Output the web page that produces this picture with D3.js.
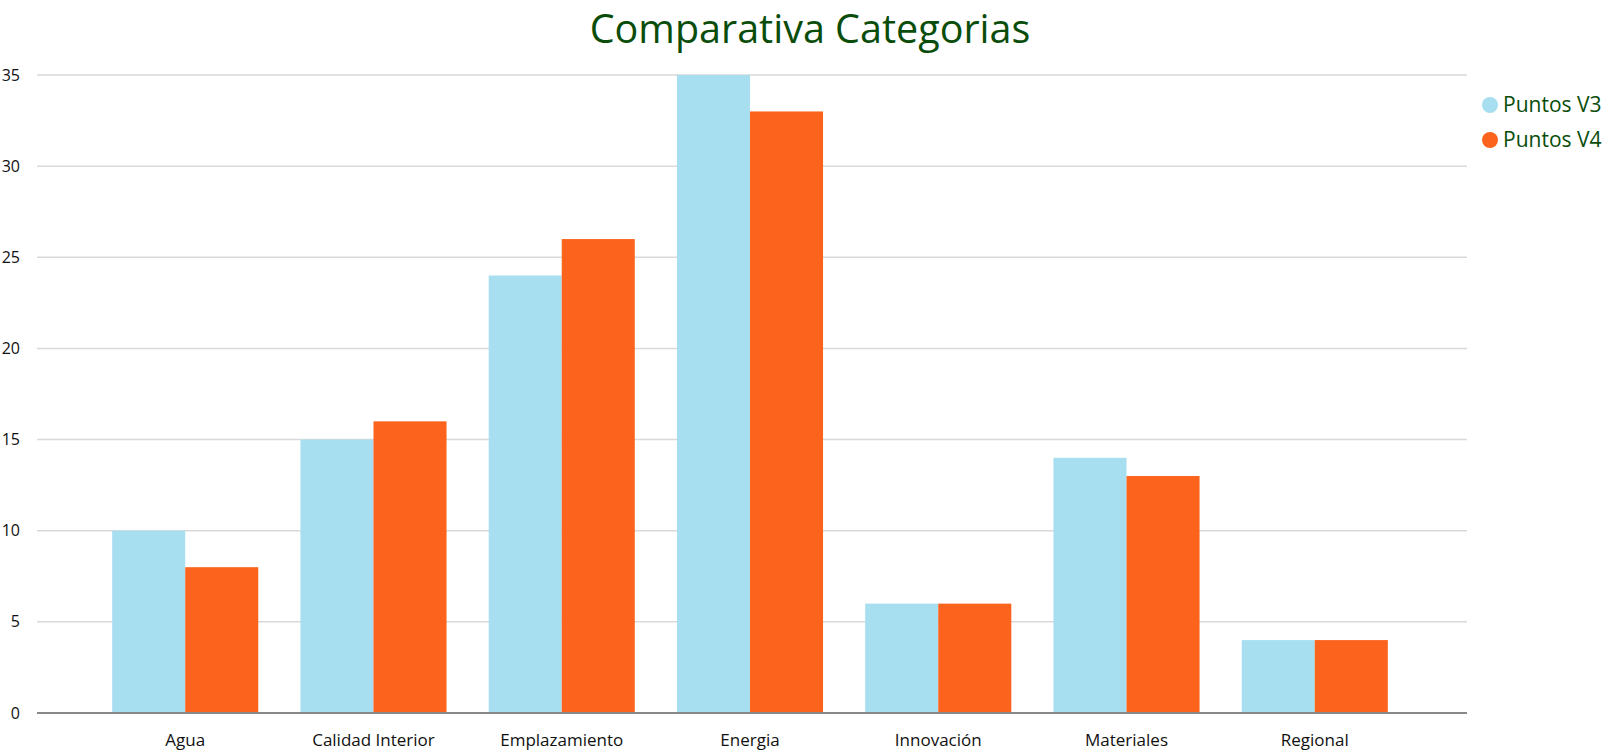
<!DOCTYPE html>
<html>
<head>
<meta charset="utf-8">
<script src="https://cdn.jsdelivr.net/npm/d3@7"></script>
<style>
  body { margin: 0; background: #fff; }
  svg { display: block; font-family: "Open Sans", "Noto Sans", sans-serif; }
</style>
</head>
<body>
<div id="chart"></div>
<script>
// Chart data
var categories = ["Agua", "Calidad Interior", "Emplazamiento", "Energia", "Innovación", "Materiales", "Regional"];
var seriesNames = ["Puntos V3", "Puntos V4"];
var puntosV3 = [10, 15, 24, 35, 6, 14, 4];
var puntosV4 = [8, 16, 26, 33, 6, 13, 4];
var yTicks = [0, 5, 10, 15, 20, 25, 30, 35];
var colors = ["#a8dff0", "#fc631d"];

var W = 1608, H = 755;
var margin = { top: 75, right: 141, bottom: 42, left: 37 };
var width = W - margin.left - margin.right;
var height = H - margin.top - margin.bottom;

var svg = d3.select("#chart").append("svg")
    .attr("width", W)
    .attr("height", H);

var g = svg.append("g")
    .attr("transform", "translate(" + margin.left + "," + margin.top + ")");

// Scales
var x0 = d3.scaleBand()
    .domain(categories)
    .range([-2, width - 2])
    .paddingInner(0.224)
    .paddingOuter(0.41);

var x1 = d3.scaleBand()
    .domain(seriesNames)
    .range([0, x0.bandwidth()]);

var y = d3.scaleLinear()
    .domain([0, 35])
    .range([height, 0]);

// Gridlines
g.selectAll(".grid")
    .data(yTicks.filter(d => d > 0))
    .enter()
    .append("line")
    .attr("x1", 0)
    .attr("x2", width)
    .attr("y1", d => y(d))
    .attr("y2", d => y(d))
    .attr("stroke", "#d9d9d9")
    .attr("stroke-width", 1.5);

// Y tick labels
g.selectAll(".ytick")
    .data(yTicks)
    .enter()
    .append("text")
    .attr("x", -17)
    .attr("y", d => y(d))
    .attr("dy", "0.35em")
    .attr("text-anchor", "end")
    .attr("font-size", "16px")
    .attr("fill", "#111")
    .text(d => d);

// Bars
var rows = categories.map(function(c, i) {
    return { cat: c, values: [puntosV3[i], puntosV4[i]] };
});

var groups = g.selectAll(".group")
    .data(rows)
    .enter()
    .append("g")
    .attr("transform", d => "translate(" + x0(d.cat) + ",0)");

groups.selectAll("rect")
    .data(d => d.values.map((v, j) => ({ name: seriesNames[j], value: v, color: colors[j] })))
    .enter()
    .append("rect")
    .attr("x", d => x1(d.name))
    .attr("y", d => y(d.value))
    .attr("width", x1.bandwidth())
    .attr("height", d => height - y(d.value))
    .attr("fill", d => d.color);

// X axis line
g.append("line")
    .attr("x1", 0)
    .attr("x2", width)
    .attr("y1", height)
    .attr("y2", height)
    .attr("stroke", "#888")
    .attr("stroke-width", 2);

// X labels
g.selectAll(".xlabel")
    .data(categories)
    .enter()
    .append("text")
    .attr("x", d => x0(d) + x0.bandwidth() / 2)
    .attr("y", height + 33)
    .attr("text-anchor", "middle")
    .attr("font-size", "17px")
    .attr("fill", "#111")
    .text(d => d);

// Title
svg.append("text")
    .attr("x", 810)
    .attr("y", 43)
    .attr("text-anchor", "middle")
    .attr("font-size", "39.5px")
    .attr("fill", "#0a4d0a")
    .text("Comparativa Categorias");

// Legend
var legend = svg.selectAll(".legend")
    .data(seriesNames)
    .enter()
    .append("g")
    .attr("transform", (d, i) => "translate(1490," + (105 + i * 35) + ")");

legend.append("circle")
    .attr("r", 8)
    .attr("fill", (d, i) => colors[i]);

legend.append("text")
    .attr("x", 13)
    .attr("dy", "0.35em")
    .attr("font-size", "21px")
    .attr("fill", "#0a4d0a")
    .text(d => d);
</script>
</body>
</html>
